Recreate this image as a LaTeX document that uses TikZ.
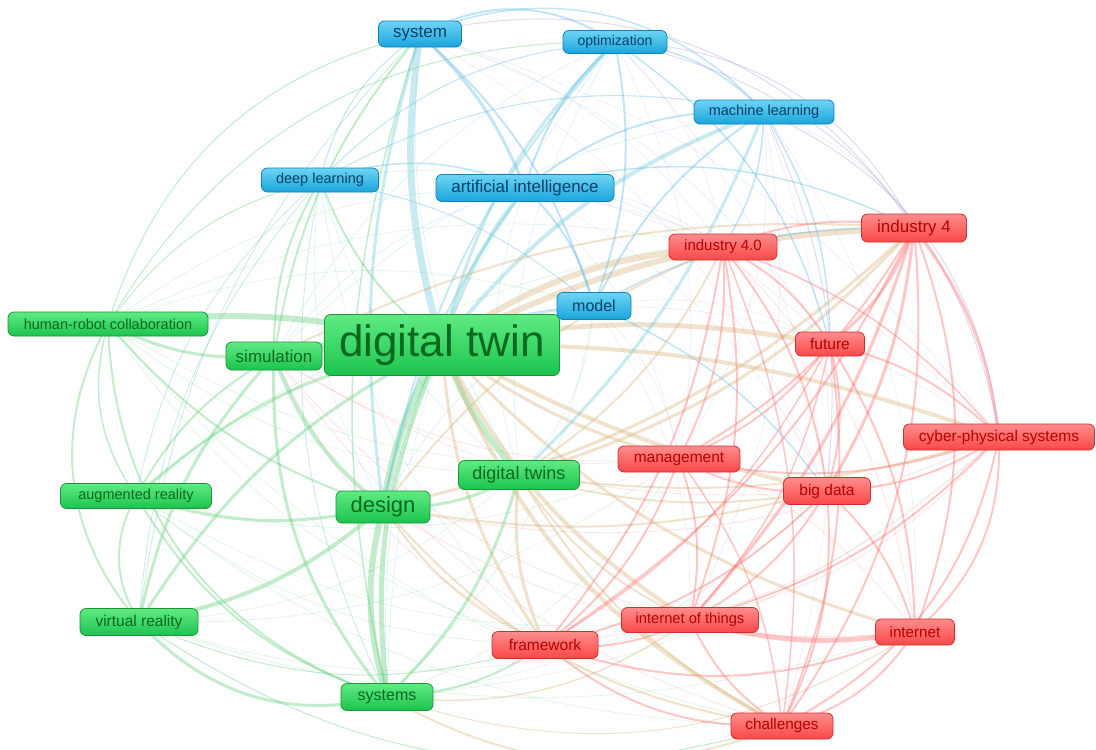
\documentclass[tikz,border=0pt]{standalone}
\usepackage{fontspec}
\setmainfont{Liberation Sans}
\usetikzlibrary{backgrounds}
\definecolor{gtop}{RGB}{95,235,130}
\definecolor{gbot}{RGB}{28,195,78}
\definecolor{gborder}{RGB}{25,150,55}
\definecolor{gtext}{RGB}{10,105,30}
\definecolor{btop}{RGB}{110,212,245}
\definecolor{bbot}{RGB}{25,165,220}
\definecolor{bborder}{RGB}{15,130,185}
\definecolor{btext}{RGB}{5,65,105}
\definecolor{rtop}{RGB}{255,140,140}
\definecolor{rbot}{RGB}{248,72,72}
\definecolor{rborder}{RGB}{210,45,45}
\definecolor{rtext}{RGB}{185,0,0}
\definecolor{gE}{RGB}{95,205,120}
\definecolor{bE}{RGB}{95,185,230}
\definecolor{rE}{RGB}{255,105,105}
\definecolor{yE}{RGB}{215,180,120}
\definecolor{tE}{RGB}{110,200,215}
\definecolor{pE}{RGB}{175,160,215}
\newcommand\fsz[1]{\fontsize{#1}{#1}\selectfont}
\tikzset{
  nb/.style={rounded corners=6pt, inner sep=0pt, line width=0.8pt},
  gn/.style={nb, draw=gborder, top color=gtop, bottom color=gbot, text=gtext},
  bn/.style={nb, draw=bborder, top color=btop, bottom color=bbot, text=btext},
  rn/.style={nb, draw=rborder, top color=rtop, bottom color=rbot, text=rtext},
  edge/.style={draw opacity=0.38, line cap=round},
  faint/.style={draw opacity=0.18, line width=0.8pt, line cap=round}
}
% outward bend: sets \bb from the two node names and a magnitude
\newcommand\outbend[3]{%
  \path (#1.center); \pgfgetlastxy{\ax}{\ay}%
  \path (#2.center); \pgfgetlastxy{\bx}{\by}%
  \pgfmathsetmacro\sg{((-(\by-\ay)/100)*((\ax+\bx)/200-5.5)+((\bx-\ax)/100)*((\ay+\by)/200+3.8)) > 0 ? 1 : -1}%
  \pgfmathsetmacro\bb{\sg*(#3)}%
}
\begin{document}
\begin{tikzpicture}[x=1pt,y=-1pt]
\useasboundingbox (0,0) rectangle (1096,750);
% nodes
\node[bn, minimum width=83pt, minimum height=26pt, font=\fsz{17}] (sys) at (420,34) {system};
\node[bn, minimum width=104pt, minimum height=23pt, font=\fsz{14}] (opt) at (615,42) {optimization};
\node[bn, minimum width=140pt, minimum height=24pt, font=\fsz{14.5}] (ml) at (764,112) {machine learning};
\node[bn, minimum width=117pt, minimum height=24pt, font=\fsz{14.5}] (dl) at (320,180) {deep learning};
\node[bn, minimum width=178pt, minimum height=27pt, font=\fsz{17}] (ai) at (525,188) {artificial intelligence};
\node[rn, minimum width=108pt, minimum height=26pt, font=\fsz{15}] (i40) at (723,247) {industry 4.0};
\node[rn, minimum width=105pt, minimum height=28pt, font=\fsz{17}] (i4) at (914,228) {industry 4};
\node[bn, minimum width=74pt, minimum height=27pt, font=\fsz{16}] (mod) at (594,306) {model};
\node[gn, minimum width=200pt, minimum height=24pt, font=\fsz{14.5}] (hrc) at (108,324) {human-robot collaboration};
\node[gn, minimum width=96pt, minimum height=28pt, font=\fsz{17}] (sim) at (274,356) {simulation};
\node[rn, minimum width=69pt, minimum height=24pt, font=\fsz{15.5}] (fut) at (830,344) {future};
\node[rn, minimum width=191pt, minimum height=26pt, font=\fsz{15.5}] (cps) at (999,437) {cyber-physical systems};
\node[rn, minimum width=122pt, minimum height=26pt, font=\fsz{15.5}] (mgmt) at (679,459) {management};
\node[gn, minimum width=121pt, minimum height=29pt, font=\fsz{18}] (dts) at (519,475) {digital twins};
\node[gn, minimum width=151pt, minimum height=25pt, font=\fsz{14.5}] (ar) at (136,496) {augmented reality};
\node[gn, minimum width=94pt, minimum height=32pt, font=\fsz{22}] (des) at (383,507) {design};
\node[rn, minimum width=87pt, minimum height=27pt, font=\fsz{15.5}] (bd) at (827,491) {big data};
\node[gn, minimum width=118pt, minimum height=27pt, font=\fsz{15.5}] (vr) at (139,622) {virtual reality};
\node[rn, minimum width=106pt, minimum height=27pt, font=\fsz{15.5}] (fw) at (545,645) {framework};
\node[rn, minimum width=137pt, minimum height=25pt, font=\fsz{14.7}] (iot) at (690,620) {internet of things};
\node[rn, minimum width=79pt, minimum height=26pt, font=\fsz{15.2}] (inet) at (915,632) {internet};
\node[gn, minimum width=92pt, minimum height=27pt, font=\fsz{16}] (syss) at (387,697) {systems};
\node[rn, minimum width=102pt, minimum height=26pt, font=\fsz{15.3}] (chal) at (782,726) {challenges};
\node[gn, minimum width=235pt, minimum height=61pt, font=\fsz{44}] (dt) at (442,345) {digital twin};
% edges
\begin{scope}[on background layer]
\foreach \a/\b/\c in {
 hrc/mod/gE, hrc/i40/gE, hrc/ai/gE, hrc/fw/gE, hrc/chal/gE, hrc/mgmt/gE, hrc/dts/gE,
 ar/fw/gE, ar/chal/gE, ar/iot/gE, ar/mgmt/gE, ar/i4/gE, ar/dl/gE, ar/mod/gE,
 vr/iot/gE, vr/inet/gE, vr/dl/gE, vr/sys/gE, vr/dts/gE, vr/mgmt/gE,
 syss/bd/gE, syss/mgmt/gE, syss/cps/gE, syss/ai/gE, syss/mod/gE, syss/dl/gE,
 dl/i40/bE, dl/des/bE, dl/dts/bE, dl/ar/bE, dl/vr/bE, dl/syss/bE, dl/fw/bE,
 sys/fut/bE, sys/cps/pE, sys/bd/pE, sys/dts/bE, sys/vr/bE, sys/i40/pE,
 opt/bd/pE, opt/mgmt/pE, opt/dts/bE, opt/syss/bE, opt/i40/pE, opt/sim/bE,
 ai/fut/pE, ai/bd/pE, ai/mgmt/pE, ai/dts/bE, ai/i40/pE, ai/cps/pE, ai/sim/bE,
 ml/mgmt/pE, ml/iot/pE, ml/inet/pE, ml/chal/pE, ml/sim/bE, ml/i4/pE,
 mod/fut/pE, mod/mgmt/pE, mod/iot/pE, mod/cps/pE, mod/des/bE, mod/dts/bE,
 i40/inet/rE, mgmt/inet/rE, iot/cps/rE, fw/cps/rE, chal/sim/rE, fw/sim/rE,
 mgmt/sim/rE, iot/sim/rE, bd/sim/rE, inet/des/rE, cps/des/rE%
 }{
 \outbend{\a}{\b}{18}
 \draw[faint, draw=\c] (\a.center) to[bend left=\bb] (\b.center);
}
\foreach \a/\b/\w/\bd/\c in {
 dt/sim/6/10/gE, dt/hrc/6/10/gE, dt/des/7/10/gE, dt/syss/5/15/gE, dt/dts/6/10/gE,
 dt/ar/3/15/gE, dt/vr/3/15/gE, dt/sys/7/12/tE, dt/ai/4/10/tE, dt/dl/2/15/gE,
 dt/ml/4/15/tE, dt/opt/3/15/tE, dt/mod/3/10/tE,
 dt/i40/6/15/yE, dt/i4/6/12/yE, dt/fut/5/10/yE, dt/cps/4/10/yE, dt/bd/4/8/yE,
 dt/mgmt/3/10/yE, dt/iot/4/15/yE, dt/fw/3/15/yE, dt/chal/4/20/yE, dt/inet/3/15/yE,
 des/syss/6/15/gE, des/sim/4/15/gE, des/vr/4/15/gE, des/ar/3/15/gE, des/hrc/2/15/gE,
 des/dts/3/15/gE, des/i4/3/15/yE, des/i40/2/15/yE, des/fw/2/15/yE, des/chal/2/20/yE,
 des/bd/2/12/yE,
 sim/hrc/3/15/gE, sim/vr/3/15/gE, sim/ar/2/15/gE, sim/syss/3/20/gE, sim/dl/2/15/gE,
 sim/sys/2/15/gE, sim/i4/2/15/yE,
 hrc/vr/2/35/gE, hrc/ar/1.5/25/gE, hrc/syss/2/35/gE, hrc/sys/1/30/gE, hrc/opt/1/30/gE,
 hrc/dl/1/20/gE,
 ar/vr/2/30/gE, ar/syss/2/20/gE, vr/syss/3/30/gE, vr/fw/1/20/gE, vr/chal/1/25/gE,
 dts/syss/3/15/gE, dts/fw/3/15/yE, dts/i4/3/15/yE, dts/i40/2/15/yE, dts/chal/2/15/yE,
 dts/iot/2/15/yE, dts/bd/2/12/yE, dts/cps/2/12/yE,
 syss/fw/2/15/gE, syss/chal/2/25/yE, syss/iot/1.5/20/yE, syss/inet/1/25/yE, syss/sys/1.5/15/gE,
 sys/ai/3/12/bE, sys/opt/2/30/bE, sys/ml/1.5/35/bE, sys/mod/2/15/bE, sys/dl/1/20/bE,
 sys/i4/1/35/pE, sys/des/3/12/tE,
 opt/ai/2/15/bE, opt/mod/2/15/bE, opt/ml/1.5/20/bE, opt/dl/1/20/bE, opt/i4/1/30/pE,
 opt/cps/1/35/pE, opt/fut/1.5/20/bE, opt/des/2/15/tE,
 ml/ai/2/20/bE, ml/mod/2/15/bE, ml/i40/1.5/15/bE, ml/fut/1.5/15/bE, ml/bd/1/15/pE,
 ml/dts/3/12/tE, ml/dl/1/20/bE, ml/cps/1/30/pE,
 ai/mod/2/15/bE, ai/dl/1.5/20/bE, ai/des/2/12/tE, ai/i4/1.5/20/bE,
 dl/mod/1/15/bE, mod/i4/1.5/15/bE, mod/bd/1.5/15/bE,
 i4/i40/2/15/rE, i4/fut/3/15/rE, i4/cps/3/15/rE, i4/bd/3/12/rE, i4/mgmt/2/15/rE,
 i4/iot/3/12/rE, i4/inet/2/20/rE, i4/chal/2/20/rE, i4/fw/2/15/rE,
 i40/fut/2/15/rE, i40/bd/2/15/rE, i40/mgmt/2/15/rE, i40/iot/2/15/rE, i40/fw/2/15/rE,
 i40/cps/1.5/15/rE, i40/chal/1.5/15/rE,
 fut/cps/2/15/rE, fut/bd/2/15/rE, fut/mgmt/2/15/rE, fut/inet/2/15/rE, fut/chal/2/15/rE,
 fut/iot/1.5/15/rE,
 cps/bd/2/15/rE, cps/inet/2/25/rE, cps/mgmt/2/15/rE, cps/iot/2/15/rE, cps/chal/2/25/rE,
 mgmt/bd/2/15/rE, mgmt/fw/2/15/rE, mgmt/iot/2/15/rE, mgmt/chal/1.5/15/rE,
 bd/inet/2/15/rE, bd/iot/2/15/rE, bd/chal/2/15/rE, bd/fw/2/15/rE,
 iot/inet/5/12/rE, iot/chal/2/15/rE, iot/fw/2/15/rE,
 inet/chal/2/20/rE, fw/chal/2/20/rE, fw/inet/2/20/rE, fw/fut/1.5/15/rE%
 }{
 \outbend{\a}{\b}{\bd}
 \draw[edge, line width=\w pt, draw=\c] (\a.center) to[bend left=\bb] (\b.center);
}
\end{scope}
\end{tikzpicture}
\end{document}
